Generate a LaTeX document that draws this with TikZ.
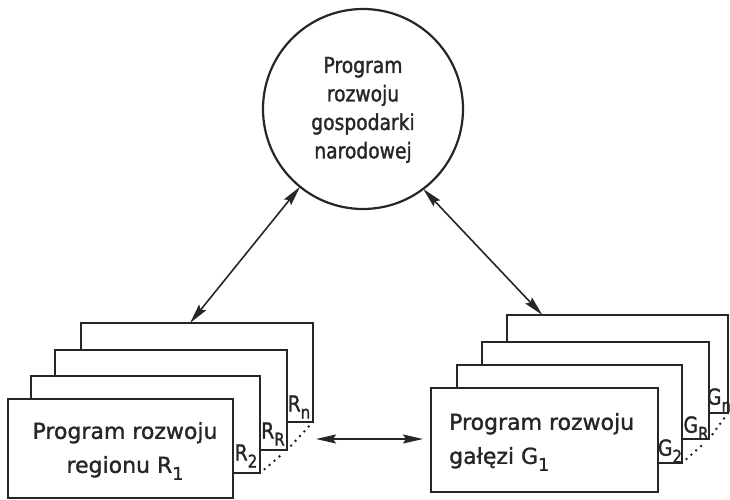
\documentclass[tikz,border=0pt]{standalone}
\usepackage{fontspec}
\setmainfont{DejaVu Sans}[FakeBold=1.3]
\newfontfamily\circfont{DejaVu Sans}[FakeStretch=0.85,FakeBold=1.4]
\usetikzlibrary{arrows.meta,calc}
\definecolor{ink}{gray}{0.15}
\newcommand\lowsub[1]{\raisebox{-0.32em}{\scalebox{0.8}{#1}}}
\begin{document}
\begin{tikzpicture}[x=1pt,y=-1pt,
  pbox/.style={draw=ink,line width=2.4pt,fill=white,inner sep=0pt,outer sep=0pt},
  maintext/.style={text=ink,font=\fontsize{22}{34}\selectfont,inner sep=0pt},
  lbl/.style={text=ink,font=\circfont\fontsize{22}{24}\selectfont,inner sep=0pt},
  dotline/.style={draw=ink,line width=2.8pt,line cap=round,dash pattern=on 0pt off 6.5pt},
  darr/.style={draw=ink,line width=1.6pt,{Stealth[length=20pt,width=9pt,inset=3pt]}-{Stealth[length=20pt,width=9pt,inset=3pt]}}]
\useasboundingbox (0,0) rectangle (730,500);
% circle
\node[draw=ink,line width=2.2pt,circle,minimum size=200pt,inner sep=0pt,outer sep=0pt] (C) at (363,109) {};
\node[text=ink,font=\circfont\fontsize{22}{28.5}\selectfont,align=center,inner sep=0pt] (Ct) at (363,110) {Program\\rozwoju\\gospodarki\\narodowej};
% left stack (back to front)
\node[pbox,minimum width=232pt,minimum height=99pt] (L4) at (197,372.5) {};
\node[pbox,minimum width=232pt,minimum height=100pt] (L3) at (171,400) {};
\node[pbox,minimum width=229pt,minimum height=97pt] (L2) at (145.5,424.5) {};
\node[pbox,minimum width=225pt,minimum height=99pt] (L1) at (120.5,448.5) {};
\node[maintext,align=center] (Lt) at (125,451) {Program rozwoju\\regionu R\lowsub{1}};
\node[lbl] (Rn) at (299,407) {R\lowsub{n}};
\node[lbl] (RR) at (273,434) {R\lowsub{R}};
\node[lbl] (R2) at (246,456) {R\lowsub{2}};
\draw[dotline,shorten <=6pt,shorten >=5pt] (L2.south east) -- (L3.south east);
\draw[dotline,shorten <=6pt,shorten >=5pt] (L3.south east) -- (L4.south east);
% right stack
\node[pbox,minimum width=221pt,minimum height=98pt] (G4) at (617.5,364) {};
\node[pbox,minimum width=227pt,minimum height=97pt] (G3) at (595.5,390.5) {};
\node[pbox,minimum width=225pt,minimum height=98pt] (G2) at (569.5,414) {};
\node[pbox,minimum width=227pt,minimum height=104pt] (G1) at (544.5,440) {};
\node[maintext,align=left,anchor=west] (Gt) at (449,442) {Program rozwoju\\gałęzi G\lowsub{1}};
\node[lbl] (Gn) at (719,400) {G\lowsub{n}};
\node[lbl] (GR) at (696,428) {G\lowsub{R}};
\node[lbl] (G2l) at (670,451) {G\lowsub{2}};
\draw[dotline,shorten <=6pt,shorten >=5pt] (G2.south east) -- (G3.south east);
\draw[dotline,shorten <=6pt,shorten >=5pt] (G3.south east) -- (G4.south east);
% connectors
\draw[darr] (C.231) -- ($(L4.north west)!0.47!(L4.north east)$);
\draw[darr] (C.-53.5) -- ($(G4.north west)!0.16!(G4.north east)$);
\draw[darr] ($(L4.south east)+(3,17)$) -- ($(G1.west)+(-8,-1)$);
\end{tikzpicture}
\end{document}
